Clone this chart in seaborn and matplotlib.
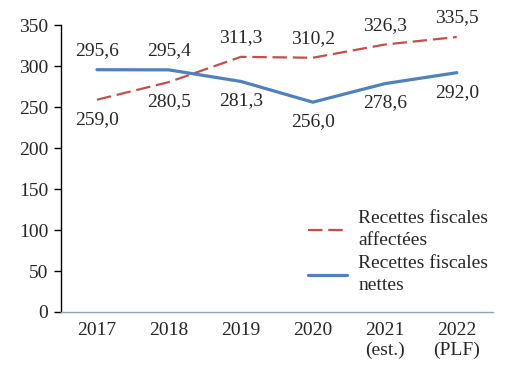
import numpy as np
import matplotlib.pyplot as plt
import seaborn as sns
import pandas as pd

# Data
years = ['2017', '2018', '2019', '2020', '2021\n(est.)', '2022\n(PLF)']
affectees = [259.0, 280.5, 311.3, 310.2, 326.3, 335.5]
nettes = [295.6, 295.4, 281.3, 256.0, 278.6, 292.0]
# label placement: +1 above, -1 below
pos_affectees = [-1, -1, 1, 1, 1, 1]
pos_nettes = [1, 1, -1, -1, -1, -1]

sns.set_style('white')
plt.rcParams['font.family'] = ['Liberation Serif', 'DejaVu Serif']

fig = plt.figure(figsize=(5.08, 3.75), dpi=100)
ax = fig.add_axes([0.12, 0.168, 0.85, 0.765])

red = '#C0504D'
blue = '#4F81BD'

df = pd.DataFrame({'annee': years, 'affectees': affectees, 'nettes': nettes})
sns.lineplot(data=df, x='annee', y='affectees', ax=ax, color=red, lw=1.6,
             dashes=False, label='Recettes fiscales\naffectées', sort=False)
ax.lines[-1].set_dashes([6.5, 2.6])
sns.lineplot(data=df, x='annee', y='nettes', ax=ax, color=blue, lw=2.3,
             label='Recettes fiscales\nnettes', sort=False)

def fmt(v):
    return f'{v:.1f}'.replace('.', ',')

for i in range(len(years)):
    ax.annotate(fmt(affectees[i]), (i, affectees[i]), xytext=(0, 14 * pos_affectees[i]),
                textcoords='offset points', ha='center', va='center', fontsize=14)
    ax.annotate(fmt(nettes[i]), (i, nettes[i]), xytext=(0, 14 * pos_nettes[i]),
                textcoords='offset points', ha='center', va='center', fontsize=14)

ax.set_ylim(0, 350)
ax.set_yticks(range(0, 351, 50))
ax.set_xlim(-0.5, len(years) - 0.5)
ax.set_xlabel('')
ax.set_ylabel('')

for s in ['top', 'right']:
    ax.spines[s].set_visible(False)
ax.spines['left'].set_color('black')
ax.spines['left'].set_linewidth(1)
ax.spines['bottom'].set_color('#8EA2C6')
ax.spines['bottom'].set_linewidth(1)
ax.tick_params(axis='y', left=True, length=5, width=1, color='black', labelsize=14, pad=4)
ax.tick_params(axis='x', bottom=False, labelsize=14, pad=4)

leg = ax.legend(loc='lower right', bbox_to_anchor=(1.03, 0.0), frameon=False, fontsize=14,
                handlelength=2.0, labelspacing=0.3, handletextpad=0.6)
for t in leg.get_texts():
    t.set_linespacing(1.4)

plt.savefig('out.png', dpi=100)
